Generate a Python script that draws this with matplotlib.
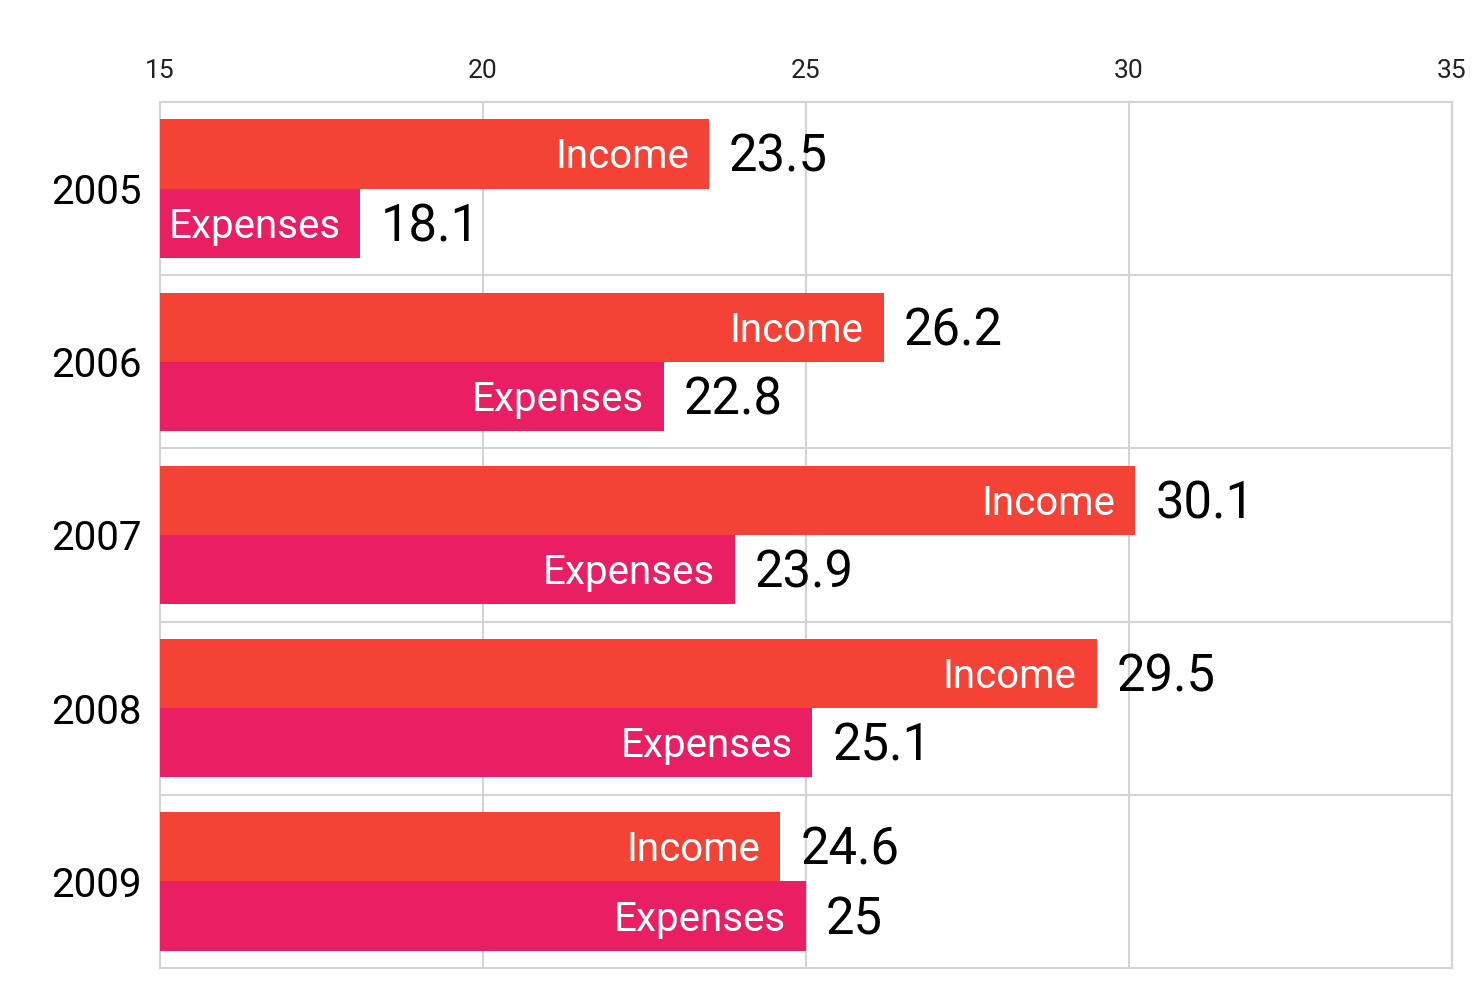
import matplotlib
matplotlib.use("Agg")
import matplotlib.pyplot as plt
import numpy as np

years = ["2005", "2006", "2007", "2008", "2009"]
income = [23.5, 26.2, 30.1, 29.5, 24.6]
expenses = [18.1, 22.8, 23.9, 25.1, 25]
series_names = ["Income", "Expenses"]
colors = ["#F44336", "#E91E63"]
x_ticks = [15, 20, 25, 30, 35]

plt.rcParams['font.family'] = ['Roboto', 'DejaVu Sans']

fig = plt.figure(figsize=(14.84, 10), dpi=100)
ax = fig.add_axes([160/1484, 32/1000, 1292/1484, 866/1000])

y = np.arange(len(years))
h = 0.4
base = 15
series = [income, expenses]
offsets = [-0.2, 0.2]
for name, vals, col, off in zip(series_names, series, colors, offsets):
    widths = [v - base for v in vals]
    ax.barh(y + off, widths, left=base, height=h, color=col, zorder=3)
    for yi, v in zip(y, vals):
        ax.annotate(name, xy=(v, yi + off), xytext=(-20, -3), textcoords="offset pixels",
                    ha="right", va="center", color="white", fontsize=29, zorder=4)
        ax.annotate(f"{v:g}", xy=(v, yi + off), xytext=(20, -4), textcoords="offset pixels",
                    ha="left", va="center", color="black", fontsize=36.5, zorder=4)

ax.set_xlim(15, 35)
ax.set_ylim(len(years) - 0.5, -0.5)
ax.set_xticks(x_ticks)
ax.set_xticklabels([str(t) for t in x_ticks])
ax.xaxis.tick_top()
ax.tick_params(axis="x", length=0, pad=14, labelsize=19, labelcolor="#222222")
ax.set_yticks(y)
ax.set_yticklabels(years)
ax.tick_params(axis="y", length=0, pad=13, labelsize=29)
ax.set_yticks(np.arange(0.5, len(years) - 0.5, 1), minor=True)
ax.tick_params(axis="y", which="minor", length=0)
ax.grid(True, axis="x", which="major", color="#d3d3d3", linewidth=1.5, zorder=0)
ax.grid(True, axis="y", which="minor", color="#d3d3d3", linewidth=1.5, zorder=0)
ax.grid(False, axis="y", which="major")
for s in ax.spines.values():
    s.set_color("#d3d3d3")
    s.set_linewidth(1.5)

fig.savefig("out.png", dpi=100)
